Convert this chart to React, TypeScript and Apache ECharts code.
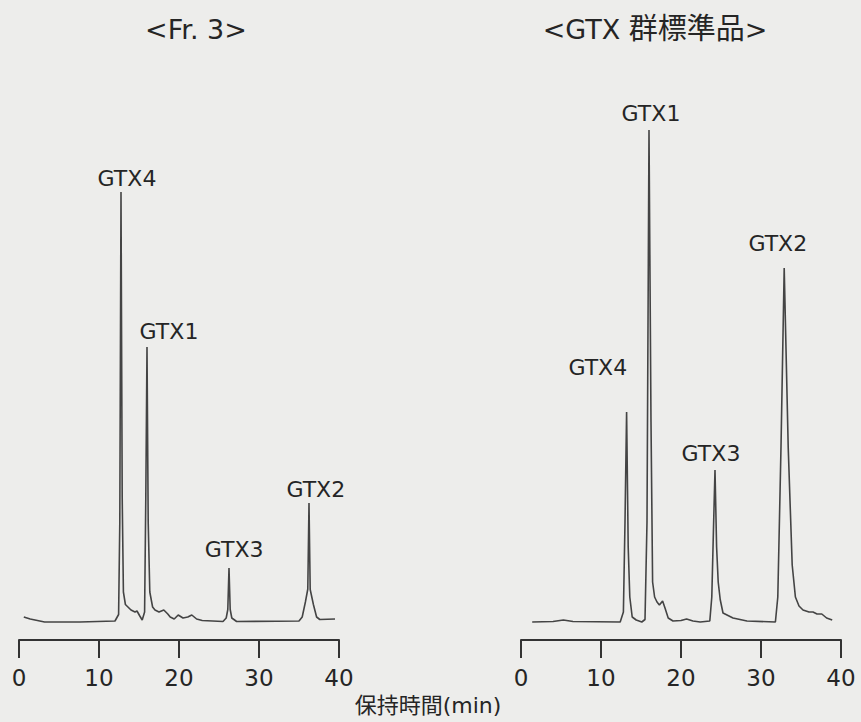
import React, { useEffect, useRef } from "react";
import * as echarts from "echarts";

// Retention time axis (min)
const timeTicks = [0, 10, 20, 30, 40];

// Fr. 3 chromatogram: retention time (min) and detector response (arb. units)
const fr3Times = [
  0.6, 1.4, 3.2, 7.6, 12.0, 12.45, 12.6, 12.75, 12.9, 13.05, 13.3, 14.0, 14.5, 14.75,
  15.1, 15.4, 15.7, 15.85, 16.0, 16.15, 16.35, 16.7, 17.0, 17.5, 18.1, 18.6, 18.9, 19.4,
  19.9, 20.5, 21.1, 21.6, 22.2, 22.9, 25.5, 25.9, 26.1, 26.25, 26.4, 26.6, 27.2, 35.0,
  35.4, 35.8, 36.1, 36.25, 36.4, 36.8, 37.2, 37.6, 39.5,
];
const fr3Signal = [
  1.0, 0.6, 0.0, 0.0, 0.2, 1.5, 20, 86, 25, 6, 3.5, 2.4, 2.0, 2.2,
  1.2, 0.4, 2, 25, 55, 20, 6, 3.0, 2.4, 2.0, 2.4, 1.6, 1.0, 0.6,
  1.4, 0.8, 1.0, 1.4, 0.6, 0.3, 0.1, 0.8, 2.5, 10.8, 2.5, 0.8, 0.1, 0.2,
  1.0, 4.0, 6.6, 23.8, 6.5, 3.5, 1.0, 0.5, 0.6,
];

// GTX group standard chromatogram
const stdTimes = [
  1.4, 4.0, 5.3, 6.5, 12.4, 12.8, 13.0, 13.2, 13.4, 13.6, 13.9, 14.4, 15.1, 15.5,
  15.75, 16.0, 16.25, 16.45, 16.7, 17.0, 17.3, 17.7, 18.0, 18.4, 19.0, 20.0, 20.7, 21.5,
  22.4, 23.6, 23.85, 24.05, 24.25, 24.45, 24.65, 24.9, 25.25, 26.5, 28.25, 31.8, 32.1, 32.5,
  32.9, 33.4, 33.9, 34.3, 34.75, 35.25, 36.0, 36.5, 37.0, 37.6, 38.2, 38.9,
];
const stdSignal = [
  0.0, 0.1, 0.4, 0.1, 0.0, 2, 20, 42, 15, 5, 1.0, 0.4, 0.0, 0.5,
  20, 98.4, 40, 8, 5, 4.0, 3.4, 4.2, 2.8, 0.8, 0.2, 0.3, 0.6, 0.2,
  0.0, 0.2, 5, 18, 30.4, 15, 8, 4.5, 1.8, 0.8, 0.2, 0.0, 5, 35,
  70.8, 35, 11.4, 5, 3.2, 2.4, 2.0, 2.0, 1.6, 1.6, 0.8, 0.4,
];

// Peak annotations: name, label centre (time, response)
const fr3PeakNames = ["GTX4", "GTX1", "GTX3", "GTX2"];
const fr3PeakLabelTimes = [13.5, 18.75, 26.9, 37.1];
const fr3PeakLabelLevels = [88.8, 58.2, 14.6, 26.6];

const stdPeakNames = ["GTX4", "GTX1", "GTX3", "GTX2"];
const stdPeakLabelTimes = [9.6, 16.25, 23.75, 32.1];
const stdPeakLabelLevels = [51, 101.8, 33.8, 75.8];

const LATIN = "'DejaVu Sans', Verdana, sans-serif";
const CJK = "'DejaVu Sans', 'Noto Sans CJK JP', sans-serif";
const INK = "#252525";

function pairs(xs: number[], ys: number[]) {
  return xs.map((x, i) => [x, ys[i]]);
}

function labelSeries(
  idx: number,
  names: string[],
  times: number[],
  levels: number[]
) {
  return {
    type: "scatter",
    xAxisIndex: idx,
    yAxisIndex: idx,
    symbolSize: 0,
    silent: true,
    clip: false,
    itemStyle: { opacity: 1 },
    data: names.map((n, i) => ({ name: n, value: [times[i], levels[i]] })),
    label: {
      show: true,
      position: "inside",
      formatter: "{b}",
      fontFamily: LATIN,
      fontSize: 22,
      color: INK,
    },
  };
}

export default function App() {
  const ref = useRef<HTMLDivElement>(null);

  useEffect(() => {
    if (!ref.current) return;
    const chart = echarts.init(ref.current, undefined, { renderer: "svg" });

    const xAxisBase = {
      type: "value",
      min: 0,
      max: 40,
      interval: 10,
      splitLine: { show: false },
      axisLine: {
        show: true,
        onZero: false,
        lineStyle: { color: "#333333", width: 2 },
      },
      axisTick: {
        show: true,
        inside: false,
        length: 18,
        lineStyle: { color: "#333333", width: 2 },
      },
      axisLabel: {
        margin: 26,
        fontFamily: LATIN,
        fontSize: 23,
        color: INK,
        formatter: (v: number) => (timeTicks.includes(v) ? String(v) : ""),
      },
    };
    const yAxisBase = { type: "value", min: -3.6, max: 105, show: false };

    const lineStyle = { color: "#444444", width: 1.6 };

    chart.setOption({
      animation: false,
      backgroundColor: "#ededeb",
      grid: [
        { left: 19, width: 320, top: 97, bottom: 82 },
        { left: 521, width: 320, top: 97, bottom: 82 },
      ],
      xAxis: [
        { ...xAxisBase, gridIndex: 0 },
        { ...xAxisBase, gridIndex: 1 },
      ],
      yAxis: [
        { ...yAxisBase, gridIndex: 0 },
        { ...yAxisBase, gridIndex: 1 },
      ],
      series: [
        {
          type: "line",
          xAxisIndex: 0,
          yAxisIndex: 0,
          showSymbol: false,
          silent: true,
          lineStyle,
          data: pairs(fr3Times, fr3Signal),
        },
        {
          type: "line",
          xAxisIndex: 1,
          yAxisIndex: 1,
          showSymbol: false,
          silent: true,
          lineStyle,
          data: pairs(stdTimes, stdSignal),
        },
        labelSeries(0, fr3PeakNames, fr3PeakLabelTimes, fr3PeakLabelLevels),
        labelSeries(1, stdPeakNames, stdPeakLabelTimes, stdPeakLabelLevels),
      ],
      graphic: [
        {
          type: "text",
          x: 196,
          y: 29,
          style: {
            text: "<Fr. 3>",
            textAlign: "center",
            textVerticalAlign: "middle",
            fontFamily: LATIN,
            fontSize: 27,
            fill: INK,
          },
        },
        {
          type: "text",
          x: 655,
          y: 29,
          style: {
            text: "{a|<GTX }{b|群標準品}{a|>}",
            textAlign: "center",
            textVerticalAlign: "middle",
            fill: INK,
            rich: {
              a: { fontFamily: LATIN, fontSize: 27, color: INK },
              b: { fontFamily: CJK, fontSize: 29, color: INK },
            },
          },
        },
        {
          type: "text",
          x: 428,
          y: 705,
          style: {
            text: "保持時間(min)",
            textAlign: "center",
            textVerticalAlign: "middle",
            fontFamily: CJK,
            fontSize: 22,
            fill: INK,
          },
        },
      ],
    });

    return () => chart.dispose();
  }, []);

  return (
    <div
      ref={ref}
      style={{ position: "fixed", left: 0, top: 0, width: 861, height: 722 }}
    />
  );
}
